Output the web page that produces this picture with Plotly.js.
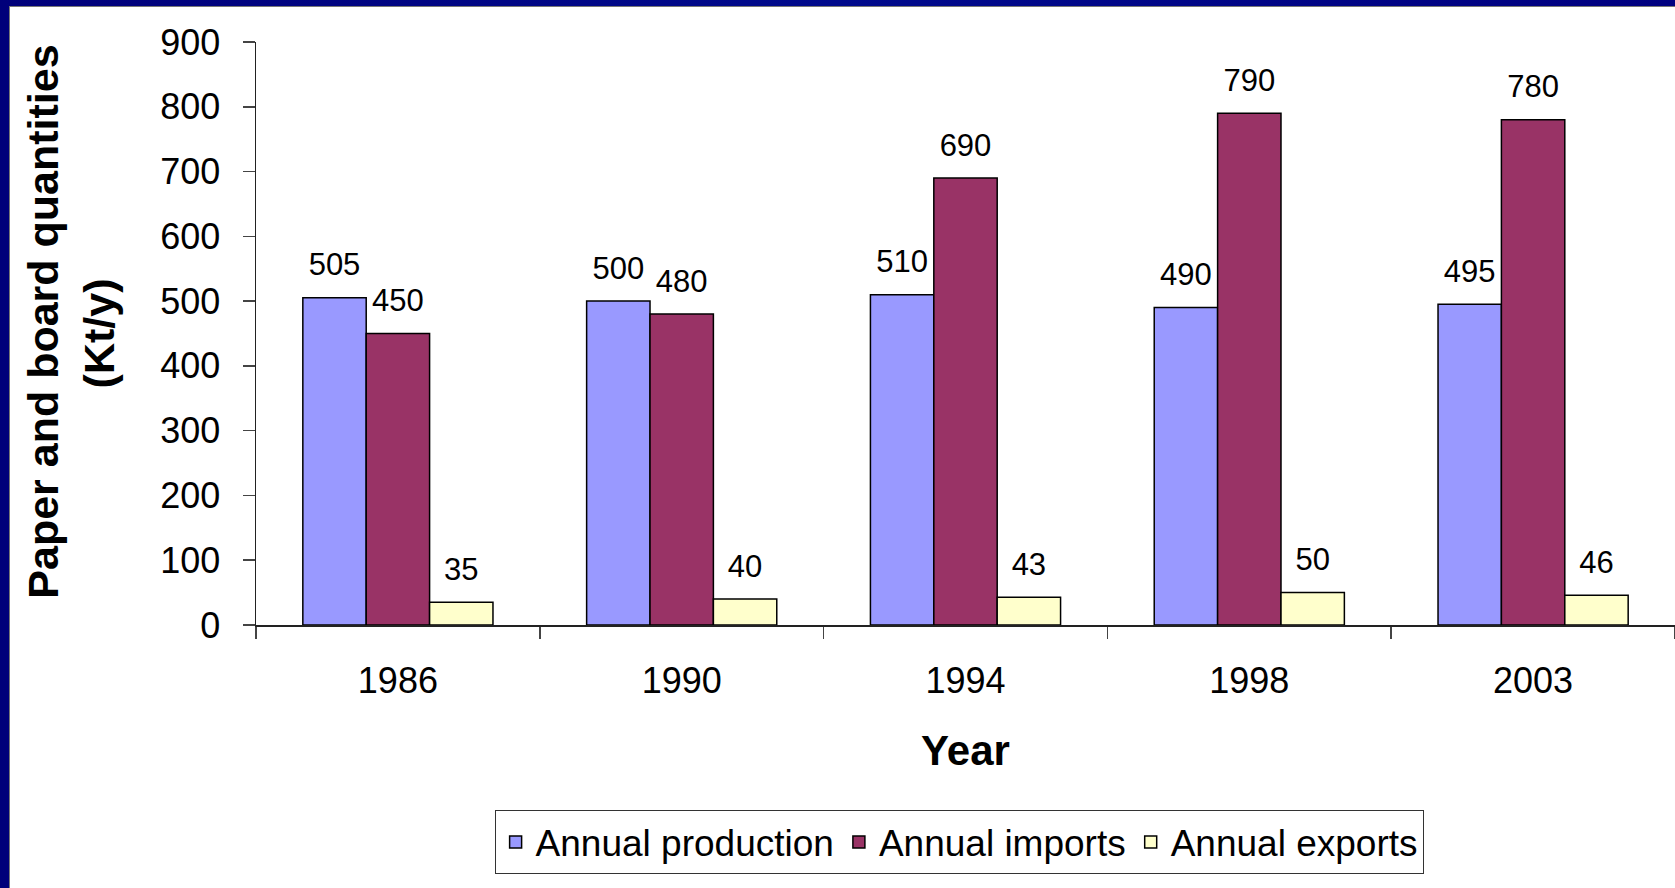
<!DOCTYPE html>
<html>
<head>
<meta charset="utf-8">
<script src="https://cdn.plot.ly/plotly-3.0.1.min.js"></script>
<style>
  html, body { margin: 0; padding: 0; width: 1675px; height: 888px; overflow: hidden;
    background: linear-gradient(90deg, #00007a 0%, #000a8c 50%, #000080 100%); }
  #frame { position: absolute; left: 9px; top: 6px; width: 1666px; height: 882px; background: #fff;
    border-left: 1px solid #777; border-top: 1px solid #777; box-sizing: border-box; }
  #chart { width: 1665px; height: 881px; }
</style>
</head>
<body>
<div id="frame"><div id="chart"></div></div>
<script>
const years = ["1986", "1990", "1994", "1998", "2003"];
const production = [505, 500, 510, 490, 495];
const imports = [450, 480, 690, 790, 780];
const exports = [35, 40, 43, 50, 46];
const seriesNames = ["Annual production", "Annual imports", "Annual exports"];
const seriesColors = ["#9999FF", "#993366", "#FFFFCC"];

const FONT = "Liberation Sans, Arial, Helvetica, sans-serif";
const series = [production, imports, exports];

const barTraces = series.map((vals, i) => ({
  type: "bar",
  name: seriesNames[i],
  x: years,
  y: vals,
  marker: { color: seriesColors[i], line: { color: "#000", width: 1.5 } },
  hoverinfo: "x+y+name"
}));

// value labels: grouped scatter text traces sitting on the bar tops
const labelTraces = series.map((vals, i) => ({
  type: "scatter",
  mode: "markers+text",
  x: years,
  y: vals,
  text: vals.map(String),
  textposition: "top center",
  textfont: { family: FONT, size: 31, color: "#000" },
  marker: { size: 22, opacity: 0, color: "#fff" },
  cliponaxis: false,
  showlegend: false,
  hoverinfo: "skip"
}));

const layout = {
  width: 1665, height: 881,
  margin: { l: 246, r: 0, t: 35, b: 263, pad: 0 },
  paper_bgcolor: "#ffffff",
  plot_bgcolor: "#ffffff",
  barmode: "group",
  bargap: 0.33,
  bargroupgap: 0,
  scattermode: "group",
  scattergap: 0.33,
  font: { family: FONT, color: "#000" },
  showlegend: true,
  legend: {
    orientation: "h",
    x: 0.4955, xanchor: "center",
    y: -0.318, yanchor: "top",
    bordercolor: "#333", borderwidth: 1, bgcolor: "#fff",
    font: { family: FONT, size: 37, color: "#000" },
    tracegroupgap: 0,
    itemwidth: 30
  },
  xaxis: {
    type: "category",
    showline: true, linecolor: "#222", linewidth: 1.5,
    ticks: "outside", tickson: "boundaries", ticklen: 12, tickcolor: "#444", tickwidth: 1.5,
    tickfont: { family: FONT, size: 36, color: "#000" },
    ticklabelstandoff: 23,
    showgrid: false, zeroline: false,
    title: { text: "Year", font: { family: FONT, size: 42, weight: "bold", color: "#000" }, standoff: 36 }
  },
  yaxis: {
    range: [0, 900], dtick: 100,
    showline: true, linecolor: "#222", linewidth: 1.5,
    ticks: "outside", ticklen: 12, tickcolor: "#444", tickwidth: 1.5,
    tickfont: { family: FONT, size: 36, color: "#000" },
    ticklabelstandoff: 15,
    showgrid: false, zeroline: false,
    title: { text: "&nbsp;&nbsp;Paper and board quantities<br>(Kt/y)", font: { family: FONT, size: 43, weight: "bold", color: "#000" }, standoff: 32 }
  }
};

Plotly.newPlot("chart", barTraces.concat(labelTraces), layout, { displayModeBar: false, staticPlot: true });
</script>
</body>
</html>
